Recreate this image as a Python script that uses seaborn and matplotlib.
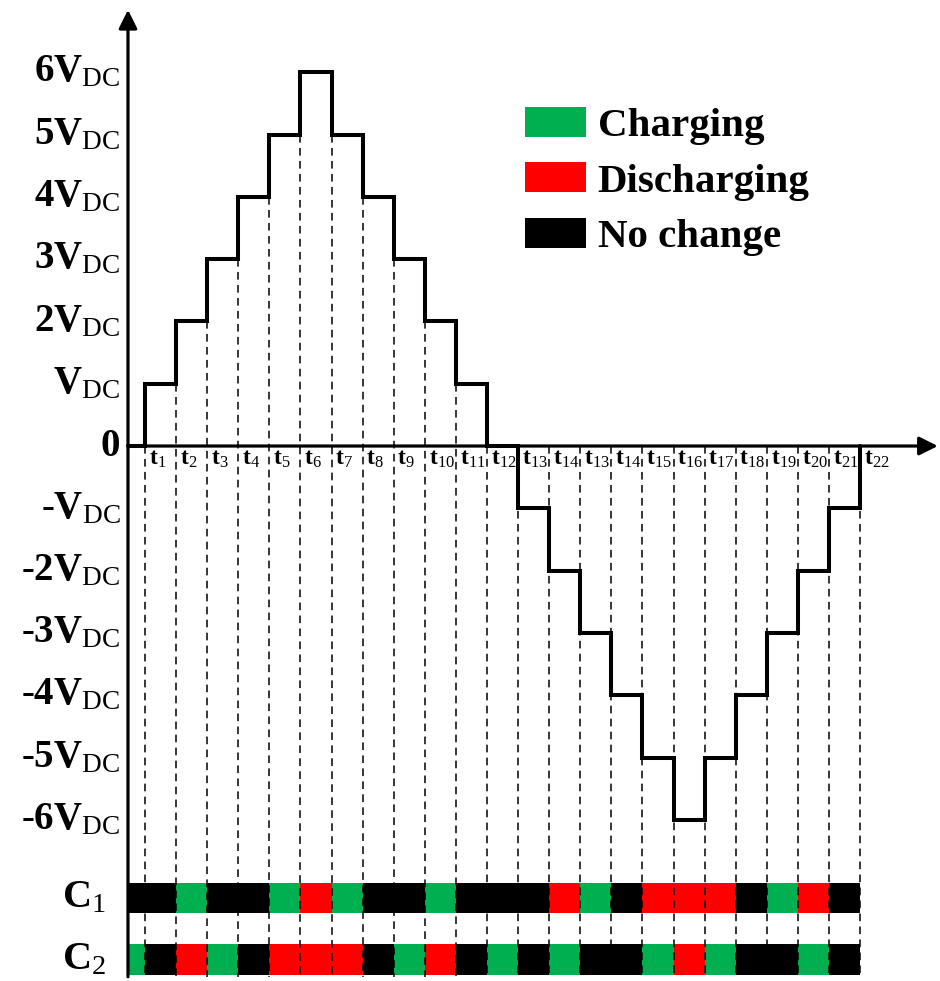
import matplotlib
matplotlib.use('Agg')
import matplotlib.pyplot as plt
from matplotlib.patches import Patch
import seaborn as sns
import numpy as np

# step levels (in V_DC) for the interval that starts at each t mark
levels = [1, 2, 3, 4, 5, 6, 5, 4, 3, 2, 1, 0,
          -1, -2, -3, -4, -5, -6, -5, -4, -3, -2, -1, 0]
t_labels = ['1', '2', '3', '4', '5', '6', '7', '8', '9', '10', '11', '12',
            '13', '14', '13', '14', '15', '16', '17', '18', '19', '20', '21', '22']
y_levels = [6, 5, 4, 3, 2, 1, 0, -1, -2, -3, -4, -5, -6]
y_names = ['6V', '5V', '4V', '3V', '2V', 'V', '0',
           '-V', '-2V', '-3V', '-4V', '-5V', '-6V']

# capacitor states: first cell is before t1, then one per interval
c1_states = ['N', 'N', 'C', 'N', 'N', 'C', 'D', 'C', 'N', 'N', 'C', 'N',
             'N', 'N', 'D', 'C', 'N', 'D', 'D', 'D', 'N', 'C', 'D', 'N']
c2_states = ['C', 'N', 'D', 'C', 'N', 'D', 'D', 'D', 'N', 'C', 'D', 'N',
             'C', 'N', 'C', 'N', 'N', 'C', 'D', 'C', 'N', 'N', 'C', 'N']

state_colors = {'C': '#00B050', 'D': '#FF0000', 'N': '#000000'}
state_names = {'C': 'Charging', 'D': 'Discharging', 'N': 'No change'}

sns.set_style('white')
plt.rcParams['font.family'] = ['Liberation Serif', 'DejaVu Serif']
plt.rcParams['font.weight'] = 'bold'
plt.rcParams['text.color'] = 'black'
plt.rcParams['mathtext.fontset'] = 'custom'
plt.rcParams['mathtext.rm'] = 'Liberation Serif:weight=normal'
plt.rcParams['mathtext.bf'] = 'Liberation Serif:weight=bold'
plt.rcParams['mathtext.it'] = 'Liberation Serif:italic'

fig = plt.figure(figsize=(9.4, 9.81), dpi=100)
ax = fig.add_axes([0, 0, 1, 1])
ax.set_xlim(-4.664, 25.571)
ax.set_ylim(-8.587, 7.159)
ax.axis('off')

x0 = -0.547          # where the vertical axis sits
bottom = -8.52
n = len(levels)
tx = np.arange(n)

# dashed guide lines
for i in range(n):
    before = levels[i - 1] if i > 0 else 0
    top = max(0, min(before, levels[i]))
    ax.plot([i, i], [top, bottom], color='k', lw=1.1,
            linestyle=(0, (5, 3.5)), zorder=4)

# state bars
edges = np.concatenate([[x0], tx])
for states, base in [(c1_states, -7.5), (c2_states, -8.49)]:
    ax.bar(edges[:-1], 0.49, width=np.diff(edges), bottom=base, align='edge',
           color=[state_colors[s] for s in states], lw=0, zorder=2)

# waveform
sns.lineplot(x=np.concatenate([[x0], tx]), y=[0] + levels, ax=ax,
             drawstyle='steps-post', color='k', lw=2.9, estimator=None,
             sort=False, zorder=6, solid_joinstyle='miter')

# axes with arrows
ax.annotate('', xy=(x0, 7.0), xytext=(x0, bottom),
            arrowprops=dict(arrowstyle='-|>', color='k', lw=2.3,
                            mutation_scale=28, shrinkA=0, shrinkB=0), zorder=7)
ax.annotate('', xy=(25.5, 0), xytext=(x0, 0),
            arrowprops=dict(arrowstyle='-|>', color='k', lw=2.3,
                            mutation_scale=28, shrinkA=0, shrinkB=0), zorder=7)

# y labels
for v, name in zip(y_levels, y_names):
    if name == '0':
        lab = r'$\mathbf{0}$'
    else:
        lab = r'$\mathbf{%s}_{\mathrm{DC}}$' % name.replace('-', '\u2010')
    ax.text(-0.80, v, lab, ha='right', va='center', fontsize=28)

# t labels
for i, s in enumerate(t_labels):
    ax.text(i + 0.12, -0.04, r'$\mathbf{t}_{\mathrm{%s}}$' % s,
            ha='left', va='top', fontsize=17)

# capacitor row labels
ax.text(-1.25, -7.25, r'$\mathbf{C}_{\mathrm{1}}$', ha='right', va='center', fontsize=29)
ax.text(-1.25, -8.24, r'$\mathbf{C}_{\mathrm{2}}$', ha='right', va='center', fontsize=29)

handles = [Patch(facecolor=state_colors[k], edgecolor='none', label=state_names[k])
           for k in ['C', 'D', 'N']]
ax.legend(handles=handles, loc='upper left', bbox_to_anchor=(525 / 940, 1 - 107 / 981),
          frameon=False, handlelength=1.5, handleheight=0.74,
          handletextpad=0.27, labelspacing=0.42, borderpad=0, borderaxespad=0,
          prop={'weight': 'bold', 'size': 29.5})

fig.savefig('out.png', dpi=100)
